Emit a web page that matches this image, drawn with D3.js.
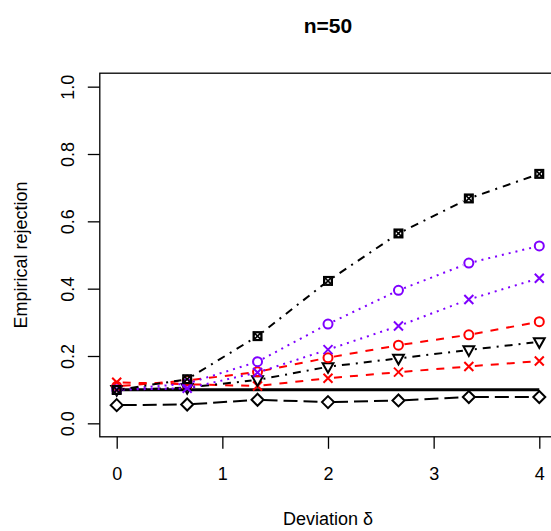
<!DOCTYPE html>
<html><head><meta charset="utf-8">
<script src="https://cdn.jsdelivr.net/npm/d3@7"></script>
<style>body{margin:0;background:#fff}svg{display:block}text{font-family:"Liberation Sans",Arial,sans-serif}</style>
</head><body>
<script>
const deltas = [0, 0.667, 1.333, 2, 2.667, 3.333, 4];
const xTicks = [0, 1, 2, 3, 4];
const yTicks = [0, 0.2, 0.4, 0.6, 0.8, 1.0];
const sBoxX   = [0.099, 0.131, 0.259, 0.423, 0.564, 0.668, 0.741];
const sPurpO  = [0.100, 0.118, 0.183, 0.295, 0.395, 0.476, 0.527];
const sPurpX  = [0.100, 0.104, 0.151, 0.219, 0.289, 0.368, 0.431];
const sRedO   = [0.110, 0.127, 0.153, 0.195, 0.232, 0.263, 0.302];
const sTri    = [0.100, 0.106, 0.129, 0.168, 0.193, 0.218, 0.242];
const sRedX   = [0.122, 0.116, 0.111, 0.134, 0.152, 0.169, 0.185];
const sLevel  = [0.1, 0.1, 0.1, 0.1, 0.1, 0.1, 0.1];
const sDiam   = [0.054, 0.056, 0.070, 0.063, 0.068, 0.078, 0.078];

const W = 551, H = 531;
const svg = d3.select("body").append("svg").attr("width", W).attr("height", H);
const x = d3.scaleLinear().domain([-0.16, 4.16]).range([99.8, 556.2]);
const y = d3.scaleLinear().domain([-0.04, 1.04]).range([436.8, 73.2]);

const series = [
  {v: sDiam,  color: "#000", dash: "14,6", w: 2, pch: "diamond"},
  {v: sLevel, color: "#000", dash: null, w: 3, pch: null},
  {v: sRedX,  color: "#FF0000", dash: "8,8", w: 2, pch: "x"},
  {v: sTri,   color: "#000", dash: "2,6,8,6", w: 2, pch: "tri"},
  {v: sRedO,  color: "#FF0000", dash: "8,8", w: 2, pch: "o"},
  {v: sPurpX, color: "#7F00FF", dash: "2,5", w: 2, pch: "x"},
  {v: sPurpO, color: "#7F00FF", dash: "2,5", w: 2, pch: "o"},
  {v: sBoxX,  color: "#000", dash: "2,6,8,6", w: 2, pch: "boxx"}
];

const plot = svg.append("g");
const gap = 6;
series.forEach(s => {
  const pts = deltas.map((d, i) => [x(d), y(s.v[i])]);
  const g = plot.append("g");
  if (!s.pch) {
    g.append("path").attr("d", d3.line()(pts)).attr("fill", "none")
      .attr("stroke", s.color).attr("stroke-width", s.w);
    return;
  }
  for (let i = 0; i < pts.length - 1; i++) {
    const [x0, y0] = pts[i], [x1, y1] = pts[i + 1];
    const L = Math.hypot(x1 - x0, y1 - y0);
    if (L <= 2 * gap) continue;
    const ux = (x1 - x0) / L, uy = (y1 - y0) / L;
    g.append("line")
      .attr("x1", x0 + ux * gap).attr("y1", y0 + uy * gap)
      .attr("x2", x1 - ux * gap).attr("y2", y1 - uy * gap)
      .attr("stroke", s.color).attr("stroke-width", s.w)
      .attr("stroke-dasharray", s.dash);
  }
  pts.forEach(([px, py]) => {
    const m = g.append("g").attr("transform", `translate(${px},${py})`)
      .attr("fill", "none").attr("stroke", s.color).attr("stroke-width", 2);
    if (s.pch === "o") m.append("circle").attr("r", 4.5);
    else if (s.pch === "x") m.append("path").attr("d", "M-4.5,-4.5L4.5,4.5M-4.5,4.5L4.5,-4.5");
    else if (s.pch === "diamond") m.append("path").attr("d", "M0,-6L6,0L0,6L-6,0Z");
    else if (s.pch === "tri") m.append("path").attr("d", "M-5.4,-3.6L5.4,-3.6L0,6Z");
    else if (s.pch === "boxx") {
      m.attr("stroke-width", 1.6);
      m.append("rect").attr("x", -4.2).attr("y", -4.2).attr("width", 8.4).attr("height", 8.4);
      m.append("circle").attr("r", 3.6);
      m.append("path").attr("d", "M-4.2,-4.2L4.2,4.2M-4.2,4.2L4.2,-4.2");
    }
  });
});

// box
svg.append("rect").attr("x", 99.8).attr("y", 73.2).attr("width", 456.4).attr("height", 363.6)
  .attr("fill", "none").attr("stroke", "#000").attr("stroke-width", 1.3);

// x axis
const xa = svg.append("g").attr("transform", "translate(0,436.8)")
  .call(d3.axisBottom(x).tickValues(xTicks).tickSize(12).tickPadding(18).tickFormat(d3.format("d")));
xa.select(".domain").remove();
xa.selectAll("line").attr("stroke", "#000").attr("stroke-width", 1.3);
xa.selectAll("text").attr("font-size", 18).attr("fill", "#000")
  .attr("font-family", "Liberation Sans, Arial, sans-serif");

// y axis
const ya = svg.append("g").attr("transform", "translate(99.8,0)")
  .call(d3.axisLeft(y).tickValues(yTicks).tickSize(12).tickFormat(d3.format(".1f")));
ya.select(".domain").remove();
ya.selectAll("line").attr("stroke", "#000").attr("stroke-width", 1.3);
ya.selectAll("text").attr("font-size", 18).attr("fill", "#000")
  .attr("font-family", "Liberation Sans, Arial, sans-serif")
  .attr("x", null).attr("dy", null)
  .attr("text-anchor", "middle")
  .attr("transform", "translate(-26,0) rotate(-90)");

// title and labels
svg.append("text").attr("x", 328).attr("y", 33).attr("text-anchor", "middle")
  .attr("font-size", 21).attr("font-weight", "bold").text("n=50");
svg.append("text").attr("x", 328).attr("y", 525).attr("text-anchor", "middle")
  .attr("font-size", 18).text("Deviation δ");
svg.append("text").attr("transform", "translate(27,255) rotate(-90)").attr("text-anchor", "middle")
  .attr("font-size", 18).text("Empirical rejection");
</script>
</body></html>
